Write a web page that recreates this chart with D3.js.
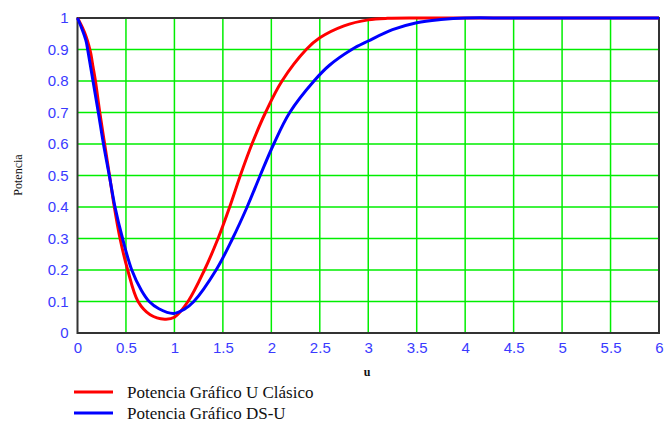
<!DOCTYPE html>
<html>
<head>
<meta charset="utf-8">
<script src="https://cdn.jsdelivr.net/npm/d3@7"></script>
<style>
  html, body { margin: 0; padding: 0; background: #fff; }
  svg { display: block; }
  .tick text { fill: #3a3aff; font-family: "Liberation Sans", Arial, sans-serif; font-size: 15px; }
</style>
</head>
<body>
<svg id="chart" width="667" height="428"></svg>
<script>
// Power curves: classic U chart vs. DS-U chart
const uClasico = [0, 0.05, 0.09, 0.115, 0.135, 0.16, 0.185, 0.23, 0.28, 0.33, 0.38, 0.439, 0.518, 0.625, 0.75, 0.9, 1.0, 1.14, 1.31, 1.45, 1.57, 1.68, 1.80, 1.94, 2.11, 2.36, 2.5, 2.75, 3.0, 3.2, 3.6, 6];
const pClasico = [1, 0.97, 0.94, 0.915, 0.89, 0.845, 0.8, 0.7, 0.6, 0.5, 0.4, 0.3, 0.2, 0.1, 0.058, 0.044, 0.05, 0.1, 0.2, 0.3, 0.4, 0.5, 0.6, 0.7, 0.8, 0.9, 0.937, 0.975, 0.994, 0.999, 1, 1];

const uDSU = [0, 0.04, 0.07, 0.09, 0.105, 0.16, 0.215, 0.268, 0.328, 0.387, 0.465, 0.56, 0.66, 0.74, 0.84, 0.99, 1.1, 1.2, 1.43, 1.6, 1.75, 1.885, 2.025, 2.19, 2.44, 2.6, 2.83, 3.0, 3.25, 3.5, 3.75, 4.0, 4.5, 6];
const pDSU = [1, 0.97, 0.945, 0.925, 0.9, 0.8, 0.7, 0.6, 0.5, 0.4, 0.3, 0.2, 0.135, 0.1, 0.077, 0.062, 0.075, 0.1, 0.2, 0.3, 0.4, 0.5, 0.6, 0.7, 0.8, 0.85, 0.9, 0.927, 0.963, 0.985, 0.995, 1, 1, 1];

const xTicks = [0, 0.5, 1, 1.5, 2, 2.5, 3, 3.5, 4, 4.5, 5, 5.5, 6];
const xTickLabels = ["0", "0.5", "1", "1.5", "2", "2.5", "3", "3.5", "4", "4.5", "5", "5.5", "6"];
const yTicks = [0, 0.1, 0.2, 0.3, 0.4, 0.5, 0.6, 0.7, 0.8, 0.9, 1];
const yTickLabels = ["0", "0.1", "0.2", "0.3", "0.4", "0.5", "0.6", "0.7", "0.8", "0.9", "1"];

const seriesNames = ["Potencia Gráfico U Clásico", "Potencia Gráfico DS-U"];
const seriesColors = ["#ff0000", "#0000ff"];

const margin = { left: 77.5, top: 18, right: 8, bottom: 95 };
const W = 667, H = 428;
const iw = W - margin.left - margin.right;
const ih = H - margin.top - margin.bottom;

const svg = d3.select("#chart");
const g = svg.append("g").attr("transform", `translate(${margin.left},${margin.top})`);

const x = d3.scaleLinear().domain([0, 6]).range([0, iw]);
const y = d3.scaleLinear().domain([0, 1]).range([ih, 0]);

// keep curves inside the plot box (plus a little room for stroke width)
svg.append("defs").append("clipPath").attr("id", "plot-clip")
  .append("rect").attr("x", -2).attr("y", -2).attr("width", iw + 4).attr("height", ih + 4);

// grid
g.append("g").selectAll("line").data(xTicks.slice(1, -1)).join("line")
  .attr("x1", d => x(d)).attr("x2", d => x(d)).attr("y1", 0).attr("y2", ih)
  .attr("stroke", "#00ee00").attr("stroke-width", 1.5);
g.append("g").selectAll("line").data(yTicks.slice(1, -1)).join("line")
  .attr("y1", d => y(d)).attr("y2", d => y(d)).attr("x1", 0).attr("x2", iw)
  .attr("stroke", "#00ee00").attr("stroke-width", 1.5);

// frame
g.append("rect").attr("x", 0).attr("y", 0).attr("width", iw).attr("height", ih)
  .attr("fill", "none").attr("stroke", "#333").attr("stroke-width", 2);

// axes (labels only)
const xAxis = d3.axisBottom(x).tickValues(xTicks).tickSize(0).tickPadding(9)
  .tickFormat((d, i) => xTickLabels[i]);
g.append("g").attr("transform", `translate(0,${ih})`).call(xAxis)
  .call(s => s.select(".domain").remove());

const yAxis = d3.axisLeft(y).tickValues(yTicks).tickSize(0).tickPadding(9)
  .tickFormat((d, i) => yTickLabels[i]);
g.append("g").call(yAxis).call(s => s.select(".domain").remove());

// curves
const line = d3.line().x(d => x(d[0])).y(d => y(d[1])).curve(d3.curveCatmullRom.alpha(0.5));
const series = [
  d3.zip(uClasico, pClasico),
  d3.zip(uDSU, pDSU)
];
series.forEach((pts, i) => {
  g.append("path").datum(pts).attr("d", line)
    .attr("clip-path", "url(#plot-clip)")
    .attr("fill", "none").attr("stroke", seriesColors[i]).attr("stroke-width", 3)
    .attr("stroke-linejoin", "round");
});

// axis titles
svg.append("text").attr("x", 367).attr("y", 376).attr("text-anchor", "middle")
  .attr("font-family", "Liberation Serif, Times New Roman, serif").attr("font-size", 12)
  .attr("font-weight", "bold").attr("fill", "#111").text("u");
svg.append("text").attr("transform", "translate(22,175) rotate(-90)").attr("text-anchor", "middle")
  .attr("font-family", "Liberation Serif, Times New Roman, serif").attr("font-size", 12)
  .attr("fill", "#111").text("Potencia");

// legend
const legend = svg.append("g");
seriesNames.forEach((name, i) => {
  const ly = 392 + i * 21;
  legend.append("line").attr("x1", 74).attr("x2", 113).attr("y1", ly).attr("y2", ly)
    .attr("stroke", seriesColors[i]).attr("stroke-width", 3);
  legend.append("text").attr("x", 127).attr("y", ly + 6)
    .attr("font-family", "Liberation Serif, Times New Roman, serif").attr("font-size", 17)
    .attr("fill", "#111").text(name);
});
</script>
</body>
</html>
